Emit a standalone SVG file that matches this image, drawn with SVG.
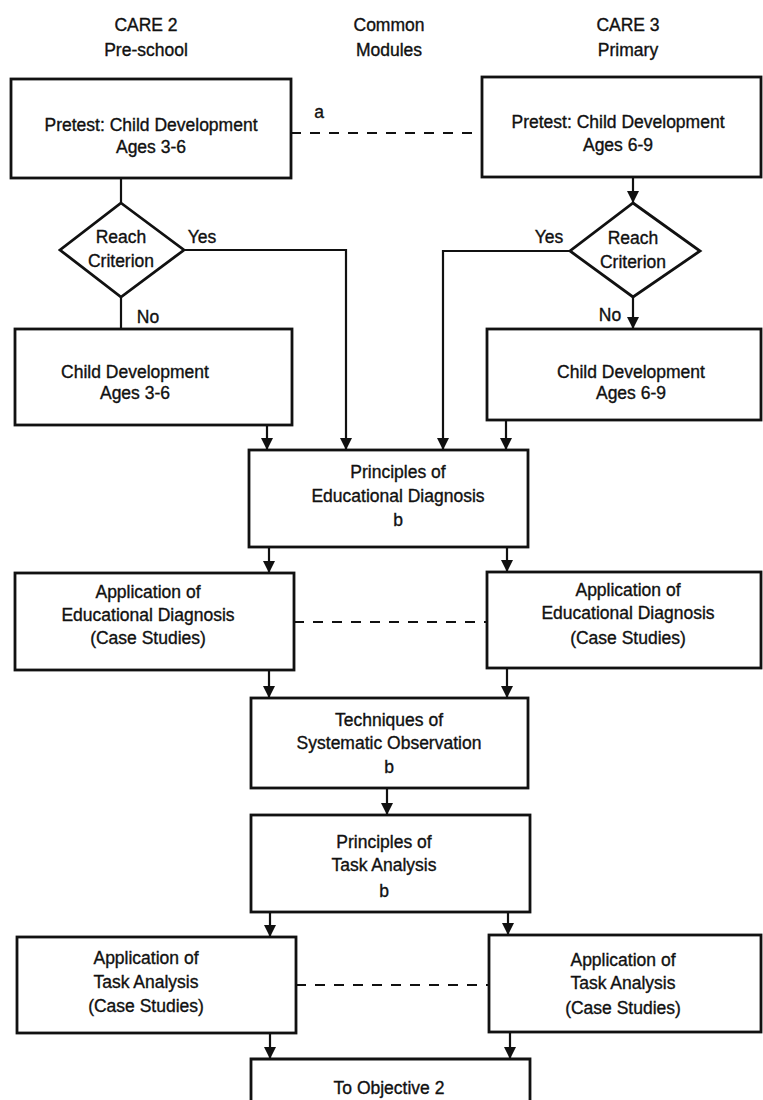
<svg xmlns="http://www.w3.org/2000/svg" width="763" height="1100" viewBox="0 0 763 1100">
  <defs>
    <marker id="arrow" markerUnits="userSpaceOnUse" markerWidth="12" markerHeight="14" viewBox="0 0 12 14" refX="12" refY="7" orient="auto">
      <path d="M0,1 L12,7 L0,13 z" fill="#111"/>
    </marker>
    <style>
      .box { fill: #fff; stroke: #111; stroke-width: 2.8; }
      .line { fill: none; stroke: #111; stroke-width: 2.2; }
      .arr { fill: none; stroke: #111; stroke-width: 2.2; marker-end: url(#arrow); }
      .dash { fill: none; stroke: #111; stroke-width: 2.2; stroke-dasharray: 10 9; }
      text { font-family: "Liberation Sans", Arial, sans-serif; font-size: 17.5px; fill: #111; stroke: #111; stroke-width: 0.35; text-anchor: middle; }
    </style>
  </defs>
  <rect width="763" height="1100" fill="#fff"/>

  <!-- column headings -->
  <g id="headings">
    <text x="146" y="31">CARE 2</text>
    <text x="146" y="56">Pre-school</text>
    <text x="389" y="31">Common</text>
    <text x="389" y="56">Modules</text>
    <text x="628" y="31">CARE 3</text>
    <text x="628" y="56">Primary</text>
  </g>

  <!-- connectors -->
  <g id="connectors">
    <path class="line" d="M121,178 V203"/>
    <path class="arr" d="M633,177 V203"/>
    <path class="line" d="M121,297 V329"/>
    <path class="arr" d="M633,297 V329"/>
    <path class="arr" d="M184,250 H346 V450"/>
    <path class="arr" d="M570,251 H443 V450"/>
    <path class="arr" d="M267,425 V450"/>
    <path class="arr" d="M506,420 V450"/>
    <path class="arr" d="M269,547 V573"/>
    <path class="arr" d="M507,547 V572"/>
    <path class="arr" d="M269,670 V698"/>
    <path class="arr" d="M507,668 V698"/>
    <path class="arr" d="M387,788 V815"/>
    <path class="arr" d="M270,912 V937"/>
    <path class="arr" d="M508,912 V935"/>
    <path class="arr" d="M270,1033 V1059"/>
    <path class="arr" d="M510,1032 V1059"/>
    <path class="dash" d="M291,133 H482"/>
    <path class="dash" d="M294,622 H487"/>
    <path class="dash" d="M296,985 H489"/>
    <text x="319" y="118">a</text>
    <text x="202" y="243">Yes</text>
    <text x="549" y="243">Yes</text>
    <text x="148" y="323">No</text>
    <text x="610" y="321">No</text>
  </g>

  <!-- CARE 2 / CARE 3 pretests -->
  <g id="pretest-care2">
    <rect class="box" x="11" y="79" width="280" height="99"/>
    <text x="151" y="131">Pretest: Child Development</text>
    <text x="151" y="153">Ages 3-6</text>
  </g>
  <g id="pretest-care3">
    <rect class="box" x="482" y="77" width="279" height="100"/>
    <text x="618" y="128">Pretest: Child Development</text>
    <text x="618" y="151">Ages 6-9</text>
  </g>

  <!-- decisions -->
  <g id="criterion-care2">
    <polygon class="box" points="121,203 184,250 121,297 60,250"/>
    <text x="121" y="243">Reach</text>
    <text x="121" y="267">Criterion</text>
  </g>
  <g id="criterion-care3">
    <polygon class="box" points="633,203 700,251 633,297 570,251"/>
    <text x="633" y="244">Reach</text>
    <text x="633" y="268">Criterion</text>
  </g>

  <!-- child development modules -->
  <g id="child-dev-care2">
    <rect class="box" x="15" y="329" width="277" height="96"/>
    <text x="135" y="378">Child Development</text>
    <text x="135" y="399">Ages 3-6</text>
  </g>
  <g id="child-dev-care3">
    <rect class="box" x="487" y="329" width="274" height="91"/>
    <text x="631" y="378">Child Development</text>
    <text x="631" y="399">Ages 6-9</text>
  </g>

  <!-- common module: educational diagnosis -->
  <g id="principles-diagnosis">
    <rect class="box" x="249" y="450" width="279" height="97"/>
    <text x="398" y="478">Principles of</text>
    <text x="398" y="502">Educational Diagnosis</text>
    <text x="398" y="526">b</text>
  </g>
  <g id="application-diagnosis-care2">
    <rect class="box" x="15" y="573" width="279" height="97"/>
    <text x="148" y="598">Application of</text>
    <text x="148" y="621">Educational Diagnosis</text>
    <text x="148" y="644">(Case Studies)</text>
  </g>
  <g id="application-diagnosis-care3">
    <rect class="box" x="487" y="572" width="274" height="96"/>
    <text x="628" y="596">Application of</text>
    <text x="628" y="619">Educational Diagnosis</text>
    <text x="628" y="644">(Case Studies)</text>
  </g>

  <!-- common module: observation -->
  <g id="systematic-observation">
    <rect class="box" x="251" y="698" width="277" height="90"/>
    <text x="389" y="726">Techniques of</text>
    <text x="389" y="749">Systematic Observation</text>
    <text x="389" y="773">b</text>
  </g>

  <!-- common module: task analysis -->
  <g id="principles-task-analysis">
    <rect class="box" x="251" y="815" width="279" height="97"/>
    <text x="384" y="848">Principles of</text>
    <text x="384" y="871">Task Analysis</text>
    <text x="384" y="897">b</text>
  </g>
  <g id="application-task-care2">
    <rect class="box" x="17" y="937" width="279" height="96"/>
    <text x="146" y="964">Application of</text>
    <text x="146" y="988">Task Analysis</text>
    <text x="146" y="1012">(Case Studies)</text>
  </g>
  <g id="application-task-care3">
    <rect class="box" x="489" y="935" width="272" height="97"/>
    <text x="623" y="966">Application of</text>
    <text x="623" y="989">Task Analysis</text>
    <text x="623" y="1014">(Case Studies)</text>
  </g>

  <!-- continuation -->
  <g id="objective-2">
    <path class="box" d="M251,1101 V1059 H530 V1101"/>
    <text x="389" y="1094">To Objective 2</text>
  </g>
</svg>
